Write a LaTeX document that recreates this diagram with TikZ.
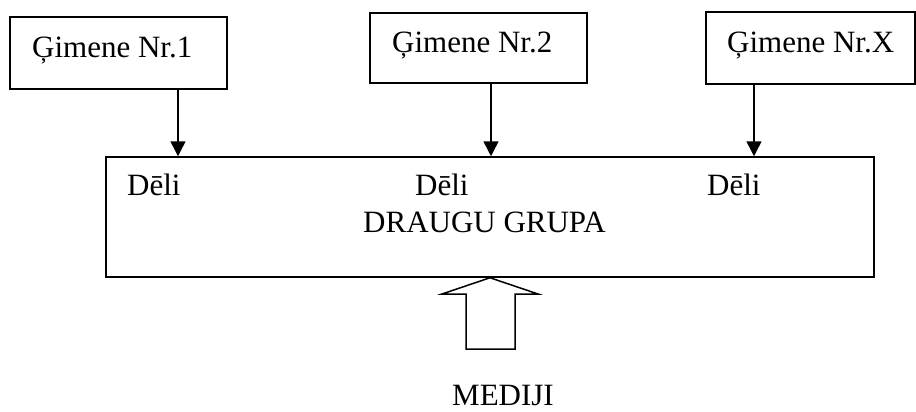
\documentclass[tikz,border=0pt]{standalone}
\usepackage{fontspec}
\setmainfont{Liberation Serif}
\usetikzlibrary{arrows.meta}
\begin{document}
\begin{tikzpicture}[x=1pt,y=-1pt,
  box/.style={draw, line width=1.5pt},
  lbl/.style={anchor=base west, inner sep=0pt, font=\fontsize{31}{36}\selectfont},
  conn/.style={line width=1.5pt, -{Triangle[length=15pt,width=15pt]}},
  block/.style={draw, line width=1.5pt, fill=white, line join=miter}]
\useasboundingbox (0,0) rectangle (916,412);
% family boxes
\node[box, minimum width=217pt, minimum height=72pt, inner sep=0pt] (g1) at (118.5,53) {};
\node[box, minimum width=217pt, minimum height=70pt, inner sep=0pt] (g2) at (478.5,48) {};
\node[box, minimum width=209pt, minimum height=72pt, inner sep=0pt] (g3) at (810.5,48) {};
\node[lbl] (t1) at (32,58) {Ģimene Nr.1};
\node[lbl] (t2) at (392,53) {Ģimene Nr.2};
\node[lbl] (t3) at (727,53) {Ģimene Nr.X};
% main box
\node[box, minimum width=768pt, minimum height=120pt, inner sep=0pt] (main) at (490,217) {};
\node[lbl] (d1) at (127,195) {Dēli};
\node[lbl] (d2) at (415,195) {Dēli};
\node[lbl] (d3) at (707,195) {Dēli};
\node[lbl] (dg) at (363,232) {DRAUGU GRUPA};
% arrow positions
\coordinate (c1) at (178,0);
\coordinate (c2) at (491,0);
\coordinate (c3) at (754,0);
\draw[conn] (g1.south -| c1) -- (main.north -| c1);
\draw[conn] (g2.south -| c2) -- (main.north -| c2);
\draw[conn] (g3.south -| c3) -- (main.north -| c3);
% block arrow
\coordinate (tip) at (main.south -| 490,0);
\draw[block] (tip) -- (538,294) -- (515,294) -- (515,349) -- (466,349) -- (466,294) -- (442,294) -- cycle;
\node[lbl] (med) at (452,405) {MEDIJI};
\end{tikzpicture}
\end{document}
